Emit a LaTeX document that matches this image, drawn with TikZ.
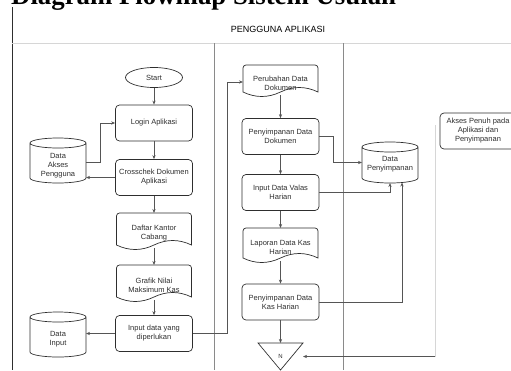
\documentclass[tikz,border=0pt]{standalone}
\usepackage{fontspec}
\setmainfont{Liberation Sans}
\newfontfamily\titlefont{Liberation Serif}
\usetikzlibrary{arrows.meta,calc,shapes.geometric}

\definecolor{ink}{HTML}{2E2E2E}
\definecolor{wire}{HTML}{555555}
\definecolor{faintc}{HTML}{D6D6D6}
\definecolor{lanec}{HTML}{8A8A8A}

\newcommand\docout[1]{\draw[shp] (#1.south west) -- ([yshift=-3pt]#1.north west) arc[start angle=180,end angle=90,radius=3pt] -- ([xshift=-3pt]#1.north east) arc[start angle=90,end angle=0,radius=3pt] -- (#1.south east) .. controls +(-12.5,-6) and +(12.5,-6) .. (#1.south) .. controls +(-12.5,6) and +(12.5,6) .. (#1.south west) -- cycle;}
\newcommand\cylout[1]{\draw[shp] ([yshift=-5pt]#1.north west) -- ([yshift=5pt]#1.south west) arc[start angle=180,end angle=360,x radius=28pt,y radius=5pt] -- ([yshift=-5pt]#1.north east) arc[start angle=0,end angle=180,x radius=28pt,y radius=5pt] arc[start angle=180,end angle=360,x radius=28pt,y radius=5pt];}

\begin{document}
\begin{tikzpicture}[x=1pt,y=-1pt,
  font=\fontsize{7.5}{9}\selectfont, text=ink,
  shp/.style={draw=ink, line width=0.7pt},
  box/.style={shp, rounded corners=4pt, minimum width=77pt, minimum height=36pt, inner sep=0pt, align=center},
  holder/.style={inner sep=0pt, outer sep=0pt},
  lbl/.style={align=center, inner sep=0pt},
  conn/.style={draw=wire, line width=0.7pt, -{Stealth[length=4pt,width=3.2pt]}},
  lane/.style={draw=#1, line width=0.6pt}
]
\useasboundingbox (0,0) rectangle (511,370);

% title (cut at top edge)
\node[anchor=base west, inner sep=0pt, font=\titlefont\bfseries\fontsize{26.8}{30}\selectfont, text=black] (title) at (11,4.5) {Diagram Flowmap Sistem Usulan};

% lanes
\draw[lane=ink] (12,7) -- (12,370);
\draw[lane=faintc] (12,43) -- (511,43);
\draw[lane=lanec] (214,43) -- (214,370);
\draw[lane=lanec] (343,43) -- (343,370);
\node[font=\fontsize{9}{10}\selectfont, text=black] (hdr) at (278,29) {PENGGUNA APLIKASI};

% left column
\node[shp, ellipse, minimum width=57pt, minimum height=20pt, inner sep=0pt] (start) at (154,77.5) {Start};
\node[box] (login) at (154,123) {Login Aplikasi};
\node[box] (cross) at (154,177.5) {Crosschek Dokumen\\Aplikasi};
\node[holder, minimum width=56pt, minimum height=45pt, label={[lbl, yshift=-5.5pt]center:Data\\Akses\\Pengguna}] (dak) at (58,160.5) {};
\cylout{dak}
\node[holder, minimum width=75pt, minimum height=32pt, label={[lbl, yshift=-4pt]center:Daftar Kantor\\Cabang}] (daftar) at (154,229) {};
\docout{daftar}
\node[holder, minimum width=75pt, minimum height=32pt, label={[lbl, yshift=-4pt]center:Grafik Nilai\\Maksimum Kas}] (grafik) at (154,281) {};
\docout{grafik}
\node[box] (input) at (154,333.5) {Input data yang\\diperlukan};
\node[holder, minimum width=56pt, minimum height=45pt, label={[lbl, yshift=-5pt]center:Data\\Input}] (datainput) at (58,334.5) {};
\cylout{datainput}

% middle column
\node[holder, minimum width=75pt, minimum height=27pt, label={[lbl, yshift=-4.5pt]center:Perubahan Data\\Dokumen}] (perubahan) at (280.5,78.5) {};
\docout{perubahan}
\node[box] (penydok) at (280.5,136.5) {Penyimpanan Data\\Dokumen};
\node[box] (valas) at (280.5,192.5) {Input Data Valas\\Harian};
\node[holder, minimum width=75pt, minimum height=30pt, label={[lbl, yshift=-4.5pt]center:Laporan Data Kas\\Harian}] (laporan) at (280.5,243) {};
\docout{laporan}
\node[box] (penykas) at (280.5,302) {Penyimpanan Data\\Kas Harian};
\node[holder, minimum width=45pt, minimum height=27pt, font=\fontsize{6}{7}\selectfont] (tri) at (280.5,356.5) {N};
\draw[shp] (tri.north west) -- (tri.north east) -- (tri.south) -- cycle;

% right column
\node[holder, minimum width=56pt, minimum height=41pt, label={[lbl, yshift=-1.5pt]center:Data\\Penyimpanan}] (dpeny) at (390,162.5) {};
\cylout{dpeny}
\node[box, minimum width=76pt] (akses) at (478,131) {Akses Penuh pada\\Aplikasi dan\\Penyimpanan};
\coordinate (aksesdrop) at (435,125);
\coordinate (aksesturn) at (435,356.5);

% connectors
\draw[conn] (start) -- (login);
\draw[conn] (login) -- (cross);
\draw[conn] ([yshift=-1.5pt]dak.east) -- ++(14,0) |- (login.west);
\draw[conn] (cross.west) -- (cross.west -| dak.east);
\draw[conn] (cross) -- (daftar);
\draw[conn] ([yshift=-3pt]daftar.south) -- (grafik.north);
\draw[conn] ([yshift=-3pt]grafik.south) -- (input.north);
\draw[conn] (input.west) -- (input.west -| datainput.east);
\draw[conn] (input.east) -- ++(34,0) |- ([yshift=-3.5pt]perubahan.west);
\draw[conn] ([yshift=-3pt]perubahan.south) -- (penydok.north);
\draw[conn] (penydok) -- (valas);
\draw[conn] (penydok.east) -- ++(14,0) |- (dpeny.west);
\draw[conn] (valas.east) -| (dpeny.south);
\draw[conn] (valas) -- (laporan);
\draw[conn] ([yshift=-3pt]laporan.south) -- (penykas.north);
\draw[conn] (penykas) -- (tri);
\draw[conn] (penykas.east) -| ([xshift=12pt,yshift=0.5pt]dpeny.south);
\draw[draw=faintc, line width=0.7pt] (aksesdrop) -- (aksesturn);
\draw[conn] (aksesturn) -- (tri.east);
\end{tikzpicture}
\end{document}
